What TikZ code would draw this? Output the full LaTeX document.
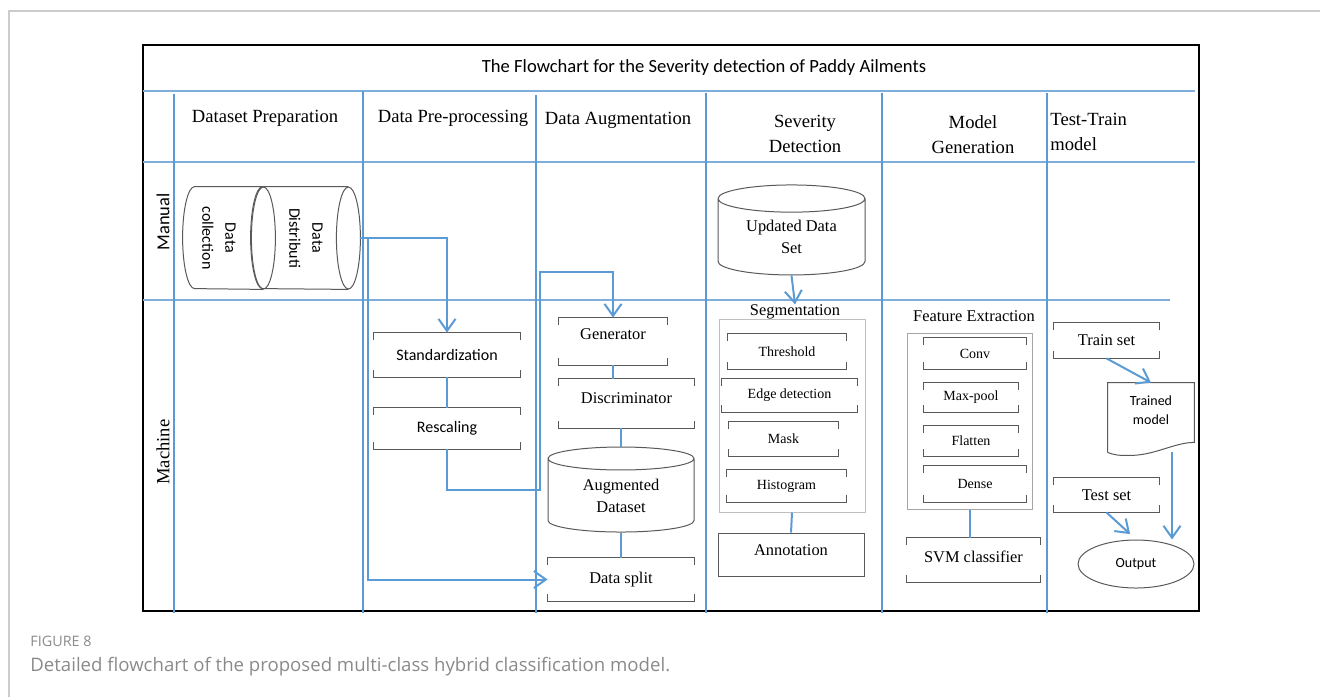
\documentclass[tikz,border=0pt]{standalone}
\usepackage{fontspec}
\usepackage{graphicx}
\setmainfont{Liberation Serif}
\newfontfamily\calib{Carlito}
\newfontfamily\capfont{Open Sans}
\usetikzlibrary{positioning, arrows.meta, shapes.geometric, calc}

\definecolor{laneblue}{HTML}{5B9BD5}
\definecolor{ruleblue}{HTML}{7FAEDD}
\definecolor{boxgray}{HTML}{595959}
\definecolor{framegray}{HTML}{CCCCCC}
\definecolor{capgray}{HTML}{8A8A8A}

\begin{document}
\begin{tikzpicture}[
            x=0.5pt, y=-0.5pt,
            >={Straight Barb[length=6pt,width=8.5pt]},
            laneline/.style={draw=laneblue, line width=1pt},
            lanerule/.style={draw=ruleblue, line width=1pt},
            flow/.style={draw=laneblue, line width=1pt},
            boxline/.style={draw=boxgray, line width=0.5pt},
            boxsize/.style 2 args={minimum width=#1*0.5pt, minimum height=#2*0.5pt},
            head/.style={font=\fontsize{9.3}{12.5}\selectfont, align=center, inner sep=0pt},
            box/.style={inner sep=0pt, font=\fontsize{8.2}{10}\selectfont},
            inbox/.style={inner sep=0pt, font=\fontsize{7}{8.5}\selectfont},
            sbox/.style={inner sep=0pt, font=\calib\fontsize{8}{9.5}\selectfont},
            hcyl/.style={inner sep=0pt, font=\calib\fontsize{8}{11.5}\selectfont},
            vcyl/.style={cylinder, shape border rotate=90, boxline, aspect=0.3, inner sep=0pt, align=center, font=\fontsize{8.2}{11}\selectfont},
        ]
            \useasboundingbox (0,0) rectangle (1320,697);

            % Page frame
            \draw[framegray, line width=0.6pt] (9,697) -- (9,11) -- (1320,11);

            % Outer box, swim lane rules and column lines
            \draw[line width=0.9pt] (143,45) rectangle (1199,611);
            \draw[lanerule] (143,91) -- (1195,91);
            \draw[lanerule] (143,162) -- (1195,162);
            \draw[lanerule] (143,300) -- (1170,300);
            \foreach \x / \y in {174/94, 363/91, 536/95, 706/93, 882/93, 1047/93}
                \draw[laneline] (\x,\y) -- (\x,613);

            % Title and column headings
            \node[font=\calib\fontsize{9.3}{11}\selectfont, inner sep=0pt] (title) at (704,68) {The Flowchart for the Severity detection of Paddy Ailments};
            \node[head] (h-prep) at (265,118) {Dataset Preparation};
            \node[head] (h-pre) at (453,118) {Data Pre-processing};
            \node[head] (h-aug) at (618,120) {Data Augmentation};
            \node[head] (h-sev) at (805,134) {Severity\\Detection};
            \node[head] (h-mod) at (973,135) {Model\\Generation};
            \node[head, anchor=west, align=left] (h-tt) at (1050,132) {Test-Train\\model};

            % Lane names
            \node[font=\calib\fontsize{9.2}{11}\selectfont, rotate=90, inner sep=0pt] (l-man) at (163,222) {Manual};
            \node[font=\fontsize{9.3}{11}\selectfont, rotate=90, inner sep=0pt] (l-mach) at (163,452) {Machine};

            % Dataset preparation: two lying cylinders, body between the cap centres
            \node[hcyl, boxsize={68}{102}] (coll) at (229,238) {\makebox[0pt]{\rotatebox{-90}{\begin{tabular}{@{}c@{}}Data\\collection\end{tabular}}\hspace{10.5pt}}};
            \node[hcyl, boxsize={85}{102}] (dist) at (305.5,238) {\rotatebox{-90}{\begin{tabular}{@{}c@{}}Data\\Distributi\end{tabular}}};
            \foreach \n in {coll, dist} {
                \draw[boxline] (\n.north east) -- (\n.north west)
                    arc[start angle=90, end angle=270, x radius=6pt, y radius=25.5pt] -- (\n.south east);
                \draw[boxline] (\n.east) ellipse[x radius=6pt, y radius=25.5pt];
            }

            % Data pre-processing
            \node[sbox, boxsize={146}{44}] (std) at (447,355) {Standardization};
            \node[sbox, boxsize={146}{41}] (resc) at (447,428.5) {Rescaling};

            % Data augmentation
            \node[box, boxsize={108}{47}, text depth=7pt] (gen) at (613,341.5) {Generator};
            \node[box, boxsize={135}{49}, text depth=5.5pt] (disc) at (626.5,403.5) {Discriminator};
            \node[vcyl, boxsize={146}{85}] (aug) at (621,495.5) {Augmented\\Dataset};
            \node[box, boxsize={146}{43}] (split) at (621,579.5) {Data split};

            % Severity detection
            \node[vcyl, boxsize={147}{90}] (upd) at (791.5,237) {Updated Data\\Set};
            \node[box] (segl) at (795,312) {Segmentation};
            \node[boxsize={146}{193}, draw=black!25, line width=0.5pt] (seg) at (792,415.5) {};
            \node[inbox, boxsize={118}{35}] (thr) at (787,351.5) {Threshold};
            \node[inbox, boxsize={135}{33}] (edge) at (789.5,395.5) {Edge detection};
            \node[inbox, boxsize={109}{34}] (mask) at (783.5,439) {Mask};
            \node[inbox, boxsize={119}{32}] (hist) at (786.5,486) {Histogram};
            \node[box, boxsize={146}{43}, text depth=4.5pt, boxline] (annot) at (791,554.5) {Annotation};

            % Model generation
            \node[box] (featl) at (974,316) {Feature Extraction};
            \node[boxsize={125}{176}, draw=black!35, line width=0.5pt] (feat) at (969.5,421) {};
            \node[inbox, boxsize={102}{31}] (conv) at (975,353.5) {Conv};
            \node[inbox, boxsize={94}{29}] (maxp) at (971,397.5) {Max-pool};
            \node[inbox, boxsize={94}{30}] (flat) at (971,441) {Flatten};
            \node[inbox, boxsize={102}{36}] (dense) at (975,484) {Dense};
            \node[box, boxsize={133}{44}, text depth=3pt] (svm) at (973.5,560) {SVM classifier};

            % Test-train model
            \node[box, boxsize={105}{35}] (train) at (1106.5,340.5) {Train set};
            \node[font=\calib\fontsize{7}{9.5}\selectfont, inner sep=0pt, align=center, text depth=7.5pt, boxsize={86}{69}] (trained) at (1151,417.5) {Trained\\model};
            \node[box, boxsize={105}{34}] (test) at (1106.5,495) {Test set};
            \node[ellipse, boxline, font=\calib\fontsize{7}{9}\selectfont, inner sep=0pt, boxsize={116}{48}] (out) at (1136,564) {Output};

            % Open boxes: only the corners of the sides are drawn
            \foreach \n in {std, resc, gen, disc, split, thr, edge, mask, hist, conv, maxp, flat, dense, svm, train, test}
                \draw[boxline] ([yshift=-3.5pt]\n.north west) |- (\n.north east) -- ++(0,7)
                               ([yshift=3.5pt]\n.south west) |- (\n.south east) -- ++(0,-7);

            % Trained model document
            \draw[boxline] (trained.south west) -- (trained.north west) -- (trained.north east)
                -- ([yshift=5pt]trained.south east)
                .. controls +(-20,0) and +(25,0) .. ([xshift=-10.5pt, yshift=-1.5pt]trained.south)
                .. controls +(-12,0) and +(8,3) .. (trained.south west);

            % Connections inside the lanes
            \draw[flow, ->] ([xshift=6pt]dist.east) -| (std.north);
            \draw[flow, ->] ([xshift=6pt]dist.east) -- ++(8,0) |- (split.west);
            \draw[flow, ->] (resc.south) -- ++(0,41) -- ++(93,0) -- ++(0,-218) -| (gen.north);
            \draw[flow] (std.south) -- (resc.north);
            \draw[flow] (gen.south) -- (gen.south |- disc.north);
            \draw[flow] (aug.north |- disc.south) -- (aug.north);
            \draw[flow] (aug.south) -- (split.north);
            \draw[flow, ->] (upd.south) -- (segl.north);
            \draw[flow] (seg.south) -- (annot.north);
            \draw[flow] (feat.south) -- (feat.south |- svm.north);
            \draw[flow, ->] (train.south) -- (trained.north);
            \draw[flow, ->] ([xshift=10.5pt]trained.south) -- ([xshift=10.5pt]trained.south |- out.north);
            \draw[flow, ->, shorten >=4pt] (test.south) -- (out.north);

            % Caption
            \node[anchor=west, inner sep=0pt, text=capgray, font=\capfont\fontsize{7.2}{9}\selectfont] (fig) at (30,641) {FIGURE 8};
            \node[anchor=west, inner sep=0pt, text=capgray, font=\capfont\fontsize{9.3}{11}\selectfont] (cap) at (30,667) {Detailed flowchart of the proposed multi-class hybrid classification model.};
        \end{tikzpicture}
\end{document}
